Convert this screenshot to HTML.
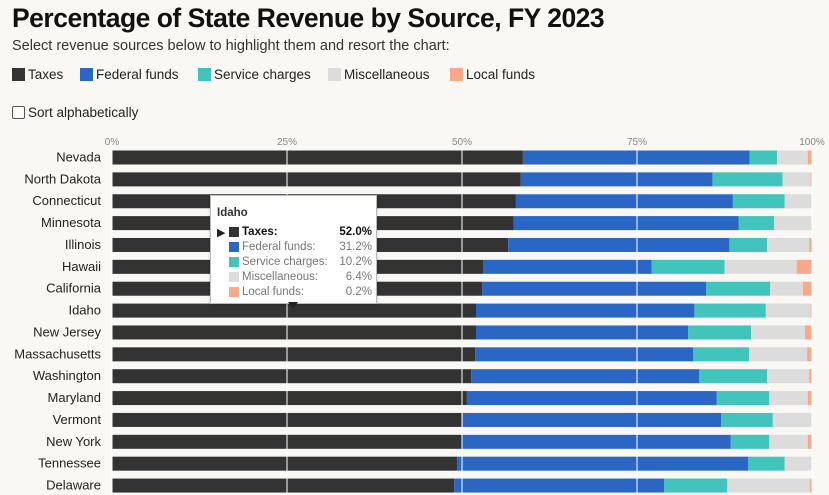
<!DOCTYPE html>
<html><head><meta charset="utf-8"><style>
body{margin:0;width:829px;height:495px;overflow:hidden;background:#faf8f4;font-family:"Liberation Sans",sans-serif;color:#222;position:relative}
.abs{position:absolute}
h1{position:absolute;left:12px;top:3px;margin:0;font-size:26.5px;font-weight:bold;color:#111;letter-spacing:-0.5px}
.sub{left:12px;top:38px;font-size:14.5px;color:#333}
.leg{top:67px;font-size:13.5px;color:#222;display:flex;align-items:center}
.sw{width:13px;height:13px;display:inline-block;margin-right:3px}
.tt{left:210px;top:195px;width:165px;height:107px;background:#fff;border:1px solid #bbb;box-shadow:0 1px 3px rgba(0,0,0,.2);font-size:11.5px}
.tt .r{position:absolute;left:18px;width:143px;display:flex;align-items:center;color:#777}
.tt .r span.v{margin-left:auto}
.tt .r i{width:10px;height:10px;display:inline-block;margin-right:3px}
</style></head><body>
<h1>Percentage of State Revenue by Source, FY 2023</h1>
<div class="abs sub">Select revenue sources below to highlight them and resort the chart:</div>
<div class="abs leg" style="left:12px"><span class="sw" style="background:#333"></span>Taxes</div>
<div class="abs leg" style="left:80px"><span class="sw" style="background:#2a67c4"></span>Federal funds</div>
<div class="abs leg" style="left:198px"><span class="sw" style="background:#40c4bc"></span>Service charges</div>
<div class="abs leg" style="left:328px"><span class="sw" style="background:#dcdcdc"></span>Miscellaneous</div>
<div class="abs leg" style="left:450px"><span class="sw" style="background:#f9a98a"></span>Local funds</div>
<div class="abs" style="left:12px;top:105px;font-size:13.5px;display:flex;align-items:center"><span style="width:11px;height:11px;border:1px solid #555;border-radius:2px;background:#fff;margin-right:3px;display:inline-block"></span>Sort alphabetically</div>
<svg class="abs" style="left:0;top:0" width="829" height="495" id="chart"></svg>
<div class="abs tt">
<div style="position:absolute;left:6px;top:11px;font-weight:bold;color:#333">Idaho</div>
<div style="position:absolute;left:6px;top:30px;font-size:11px">▶</div>
<div class="r" style="top:30px;color:#111;font-weight:bold"><i style="background:#333"></i>Taxes:<span class="v">52.0%</span></div>
<div class="r" style="top:45px"><i style="background:#2a67c4"></i>Federal funds:<span class="v">31.2%</span></div>
<div class="r" style="top:60px"><i style="background:#40c4bc"></i>Service charges:<span class="v">10.2%</span></div>
<div class="r" style="top:75px"><i style="background:#dcdcdc"></i>Miscellaneous:<span class="v">6.4%</span></div>
<div class="r" style="top:90px"><i style="background:#f9a98a"></i>Local funds:<span class="v">0.2%</span></div>
</div>
<div class="abs" style="left:288px;top:302px;width:0;height:0;border-left:5px solid transparent;border-right:5px solid transparent;border-top:7px solid #222"></div>
<script>
const states=["Nevada","North Dakota","Connecticut","Minnesota","Illinois","Hawaii","California","Idaho","New Jersey","Massachusetts","Washington","Maryland","Vermont","New York","Tennessee","Delaware"];
const taxes=[58.7,58.4,57.7,57.4,56.6,53.0,52.9,52.0,52.0,51.9,51.3,50.7,50.1,50.0,49.3,48.9];
const federal=[32.4,27.4,31.0,32.1,31.6,24.1,32.0,31.2,30.3,31.1,32.6,35.7,36.9,38.4,41.6,30.0];
const service=[3.9,10.0,7.4,5.1,5.4,10.4,9.1,10.2,9.0,8.0,9.7,7.5,7.4,5.5,5.2,9.0];
const misc=[4.4,4.0,3.9,5.3,6.0,10.3,4.7,6.4,7.7,8.3,6.0,5.5,5.6,5.5,3.9,11.8];
const local=[0.6,0.2,0.0,0.1,0.4,2.2,1.3,0.2,1.0,0.7,0.4,0.6,0.0,0.6,0.0,0.3];
const ticks=[0,25,50,75,100];
const series=[["taxes",taxes,"#333"],["federal-funds",federal,"#2a67c4"],["service-charges",service,"#40c4bc"],["miscellaneous",misc,"#dcdcdc"],["local-funds",local,"#f9a98a"]];
const NS="http://www.w3.org/2000/svg",svg=document.getElementById("chart");
const x=v=>112+v*7, y=i=>150.5+i*21.87;
function mk(t,a){const e=document.createElementNS(NS,t);for(const k in a)e.setAttribute(k,a[k]);svg.appendChild(e);return e;}
states.forEach((s,i)=>{
  const l=mk("text",{x:101,y:y(i)+11,"text-anchor":"end","font-size":13,fill:"#222","font-family":"Liberation Sans, sans-serif"});
  l.textContent=s;
  
  
  let acc=0;
  series.forEach(([n,arr,c])=>{
    const v=arr[i];
    const r=mk("rect",{x:x(acc),y:y(i),width:Math.max(0,x(acc+v)-x(acc)),height:14,fill:c});
    
    
    acc+=v;
  });
});
ticks.forEach(t=>{
  const g=mk("line",{x1:x(t),x2:x(t),y1:147,y2:495,stroke:"#fff","stroke-width":1});
  
  
  const tl=mk("text",{x:x(t),y:145,"text-anchor":"middle","font-size":10,fill:"#888","font-family":"Liberation Sans, sans-serif"});
  tl.textContent=t+"%";
  
  
});
</script>
</body></html>
